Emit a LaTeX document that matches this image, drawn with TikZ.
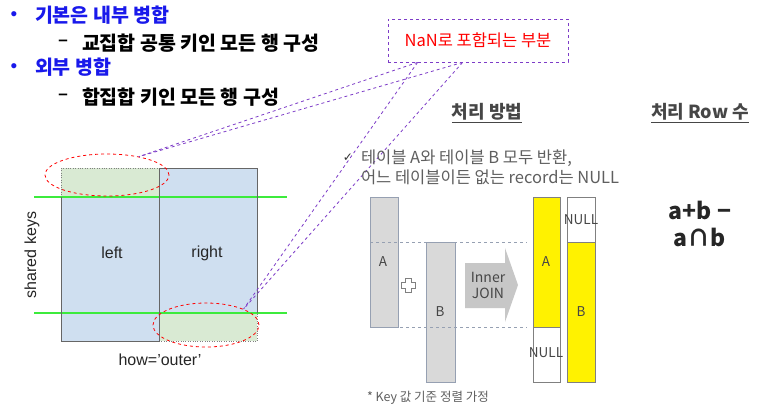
\documentclass[tikz,border=0pt]{standalone}
\usepackage{fontspec}
\setmainfont{Liberation Sans}
\newfontfamily\kr{Noto Sans CJK KR}
\newfontfamily\dejavu{DejaVu Sans}
\usetikzlibrary{shapes.geometric}
\definecolor{bluetxt}{RGB}{25,25,235}
\definecolor{lblue}{RGB}{207,223,240}
\definecolor{lgreen}{RGB}{217,234,211}
\definecolor{brightgreen}{RGB}{60,235,60}
\definecolor{purp}{RGB}{125,60,200}
\definecolor{boxgray}{RGB}{217,217,217}
\definecolor{edgegray}{RGB}{150,160,178}
\definecolor{txtgray}{RGB}{70,70,70}
\definecolor{midgray}{RGB}{95,95,95}
\tikzset{
  plain/.style={inner sep=0pt, outer sep=0pt},
  bigkr/.style={plain, anchor=west, font=\kr\bfseries\fontsize{19.5}{22}\selectfont},
  lbl/.style={plain, font=\fontsize{16}{18}\selectfont, text=black!85},
  redoval/.style={ellipse, draw=red, dashed, line width=0.8pt, inner sep=0pt},
  purpline/.style={purp, dashed, line width=0.8pt},
  colbox/.style={draw=edgegray, line width=0.7pt},
  boxlbl/.style={plain, font=\kr\fontsize{13.5}{16}\selectfont, text=txtgray},
  head/.style={plain, font=\kr\bfseries\fontsize{18}{21}\selectfont, text=txtgray},
  desc/.style={plain, anchor=west, font=\kr\fontsize{16.5}{19}\selectfont, text=midgray},
}
\begin{document}
\begin{tikzpicture}[x=1pt,y=-1pt]
\useasboundingbox (0,0) rectangle (763,413);
\fill[white] (0,0) rectangle (763,413);

% ---- top-left text
\node[plain, text=bluetxt, font=\fontsize{19}{22}\selectfont] (b1) at (14,16) {•};
\node[bigkr, text=bluetxt] (t1) at (35,15) {기본은 내부 병합};
\node[plain, font=\bfseries\fontsize{17}{20}\selectfont] (d1) at (63,43) {–};
\node[bigkr] (t2) at (82,43) {교집합 공통 키인 모든 행 구성};
\node[plain, text=bluetxt, font=\fontsize{19}{22}\selectfont] (b2) at (14,68) {•};
\node[bigkr, text=bluetxt] (t3) at (35,67) {외부 병합};
\node[plain, font=\bfseries\fontsize{17}{20}\selectfont] (d2) at (63,97) {–};
\node[bigkr] (t4) at (82,97) {합집합 키인 모든 행 구성};

% ---- left diagram
\fill[lgreen] (61,168) rectangle (159,197);
\fill[lblue] (61,197) rectangle (159,341);
\fill[lblue] (159,168) rectangle (257,313);
\fill[lgreen] (159,313) rectangle (257,341);
\draw[gray, dotted] (61,197) -- (61,168) -- (159,168);
\draw[gray, dotted] (159,341) -- (257,341) -- (257,313);
\draw[brightgreen, line width=1.6pt] (34,197) -- (287,197);
\draw[brightgreen, line width=1.6pt] (34,313) -- (287,313);
\draw[black!60, line width=0.9pt] (61,197) -- (61,341) -- (159,341) -- (159,168) -- (257,168) -- (257,313);
\node[redoval, minimum width=124pt, minimum height=42pt] (e1) at (107,175) {};
\node[redoval, minimum width=106pt, minimum height=44pt] (e2) at (206,325) {};
\node[lbl] (lt) at (112,253) {left};
\node[lbl] (rt) at (207,253) {right};
\node[lbl, rotate=90] (sk) at (32,255) {shared keys};
\node[lbl] (how) at (160,360) {how='outer'};

% ---- NaN callout
\node[draw=purp, dashed, line width=0.8pt, minimum width=180pt, minimum height=43pt, text=red,
      font=\kr\fontsize{16.5}{18}\selectfont] (nan) at (478,40.5) {NaN로 포함되는 부분};
\coordinate (p1) at ([xshift=30pt]nan.south west);
\coordinate (p2) at ([xshift=75pt]nan.south west);
\draw[purpline] (p1) -- (e1.30);
\draw[purpline] (p2) -- (e1.30);
\draw[purpline] (p1) -- (e2.23);
\draw[purpline] (p2) -- (e2.23);

% ---- headings
\node[head] (h1) at (487,112) {처리 방법};
\draw[txtgray, line width=0.9pt] ([yshift=-3.5pt]h1.base west) -- ([yshift=-3.5pt]h1.base east);
\node[head] (h2) at (700,112) {처리 Row 수};
\draw[txtgray, line width=0.9pt] ([yshift=-3.5pt]h2.base west) -- ([yshift=-3.5pt]h2.base east);

% ---- description
\node[plain, font=\dejavu\fontsize{12}{14}\selectfont, text=black!80] (ck) at (348,158) {✓};
\node[desc] (dl1) at (361,158) {테이블 A와 테이블 B 모두 반환,};
\node[desc] (dl2) at (361,177) {어느 테이블이든 없는 record는 NULL};

% ---- source tables
\draw[colbox, fill=boxgray] (370,197) rectangle (398,327);
\draw[colbox, fill=boxgray] (426,242) rectangle (455,382);
\draw[edgegray, dashed, line width=0.7pt] (370,242) -- (527,242);
\draw[edgegray, dashed, line width=0.7pt] (370,327) -- (527,327);
\node[boxlbl] (la) at (383,262) {A};
\node[boxlbl] (lb) at (440,312) {B};
\draw[gray, line width=0.8pt] (405,278) -- (411,278) -- (411,282) -- (415,282) -- (415,288) -- (411,288)
  -- (411,292) -- (405,292) -- (405,288) -- (401,288) -- (401,282) -- (405,282) -- cycle;

% ---- arrow
\fill[black!22] (465,263) -- (505,263) -- (505,248) -- (518,285) -- (505,322) -- (505,308) -- (465,308) -- cycle;
\node[boxlbl, align=center, font=\kr\fontsize{14}{16}\selectfont] (ij) at (488,285) {Inner\\JOIN};

% ---- result tables
\draw[colbox, draw=gray, fill=yellow] (533,197) rectangle (560,327);
\draw[colbox, draw=gray, fill=white] (533,327) rectangle (560,382);
\draw[colbox, draw=gray, fill=white] (567,197) rectangle (595,242);
\draw[colbox, draw=gray, fill=yellow] (567,242) rectangle (595,382);
\node[boxlbl] (ra) at (546,262) {A};
\node[boxlbl] (rn1) at (546,353) {NULL};
\node[boxlbl] (rn2) at (581,220) {NULL};
\node[boxlbl] (rb) at (581,312) {B};

% ---- footnote
\node[plain, anchor=west, font=\kr\fontsize{12.5}{14}\selectfont, text=midgray] (fn) at (367,398) {* Key 값 기준 정렬 가정};

% ---- row count
\node[plain, font=\kr\bfseries\fontsize{23}{26}\selectfont, text=black!85] (f1) at (700,210) {a+b −};
\node[plain, font=\kr\bfseries\fontsize{23}{26}\selectfont, text=black!85] (f2) at (700,237) {a∩b};
\end{tikzpicture}
\end{document}
